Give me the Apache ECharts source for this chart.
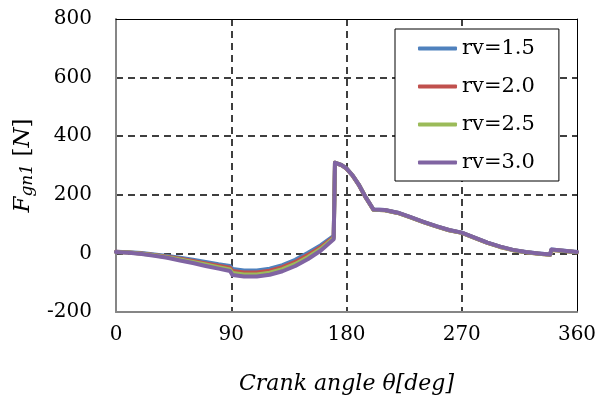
<!DOCTYPE html>
<html>
<head>
<meta charset="utf-8">
<script src="https://cdn.jsdelivr.net/npm/echarts@6/dist/echarts.min.js"></script>
<style>
  html, body { margin: 0; padding: 0; background: #fff; }
  #main { width: 600px; height: 406px; }
</style>
</head>
<body>
<div id="main"></div>
<script>
// crank angle samples [deg]
var angles = [0, 10, 20, 30, 40, 50, 60, 70, 80, 89, 91, 100, 110, 120, 130, 140, 150, 160, 170,
    171, 176, 180, 185, 190, 195, 201, 210, 220, 230, 240, 250, 260, 270, 280, 290, 300, 310,
    320, 330, 339, 340, 350, 360];

// Fgn1 [N] for each rv
var rv15 = [6, 4, 1, -4, -9, -15, -22, -29, -37, -43, -53, -58, -58, -52, -40, -22, 2, 28, 60,
    308, 301, 289, 264, 231, 191, 150, 148, 139, 124, 108, 93, 80, 71, 54, 37, 23, 12,
    5, 0, -4, 13, 9, 5];
var rv20 = [6, 3, 0, -5, -11, -18, -26, -34, -42, -49, -60, -65, -65, -59, -47, -29, -5, 22, 56,
    309, 301, 289, 264, 231, 191, 149, 147, 138, 123, 107, 92, 79, 70, 53, 36, 22, 11,
    4, -1, -5, 12, 8, 4];
var rv25 = [5, 3, -1, -6, -13, -21, -29, -38, -47, -55, -67, -72, -72, -66, -54, -36, -12, 16, 52,
    310, 302, 290, 265, 232, 192, 149, 147, 138, 123, 107, 92, 79, 70, 53, 36, 22, 11,
    4, -1, -5, 12, 8, 4];
var rv30 = [5, 2, -2, -8, -15, -24, -33, -43, -52, -60, -74, -79, -79, -73, -61, -43, -19, 10, 48,
    310, 302, 290, 265, 232, 192, 150, 148, 139, 124, 108, 93, 80, 71, 54, 37, 23, 12,
    5, 0, -4, 13, 9, 5];

var seriesNames = ['rv=1.5', 'rv=2.0', 'rv=2.5', 'rv=3.0'];
var seriesValues = [rv15, rv20, rv25, rv30];
var colors = ['#4F81BD', '#C0504D', '#9BBB59', '#8064A2'];

var xTicks = [0, 90, 180, 270, 360];

var font = 'DejaVu Serif';

function pairs(vals) {
    return angles.map(function (a, i) { return [a, vals[i]]; });
}

var chart = echarts.init(document.getElementById('main'), null, { renderer: 'canvas' });

var series = seriesNames.map(function (name, i) {
    return {
        name: name,
        type: 'line',
        data: pairs(seriesValues[i]),
        showSymbol: false,
        lineStyle: { color: colors[i], width: 4, join: 'round', cap: 'round' },
        itemStyle: { color: colors[i] },
        z: 3 + i
    };
});

var option = {
    animation: false,
    color: colors,
    grid: { left: 116, right: 23, top: 19, bottom: 94 },
    legend: {
        data: seriesNames,
        orient: 'vertical',
        left: 395,
        top: 29,
        backgroundColor: '#fff',
        borderColor: '#000',
        borderWidth: 1,
        padding: [9, 24, 8, 23],
        itemGap: 17,
        itemWidth: 39,
        itemHeight: 4,
        icon: 'roundRect',
        textStyle: { fontFamily: font, fontSize: 21, color: '#000' }
    },
    xAxis: [{
        type: 'value',
        min: 0,
        max: 360,
        interval: 90,
        name: 'Crank angle θ[deg]',
        nameLocation: 'middle',
        nameGap: 61,
        nameTextStyle: { fontFamily: font, fontStyle: 'italic', fontSize: 22, color: '#000' },
        axisLine: { show: true, onZero: false, lineStyle: { color: '#868686', width: 2 } },
        axisTick: { show: false },
        axisLabel: {
            fontFamily: font, fontSize: 20, color: '#000', margin: 13,
            formatter: function (v) { return xTicks.indexOf(v) >= 0 ? String(v) : ''; }
        },
        splitLine: {
            show: true, showMinLine: false, showMaxLine: false,
            lineStyle: { color: '#000', type: [7, 5], width: 1.5 }
        }
    }, {
        type: 'value',
        position: 'top',
        min: 0,
        max: 360,
        interval: 90,
        axisLine: { show: true, onZero: false, lineStyle: { color: '#000', width: 1 } },
        axisTick: { show: false },
        axisLabel: { show: false },
        splitLine: { show: false }
    }],
    yAxis: [{
        type: 'value',
        min: -200,
        max: 800,
        interval: 200,
        name: '{f|F}{s|gn1} [{f|N}]',
        nameLocation: 'middle',
        nameGap: 70,
        nameTextStyle: {
            fontFamily: font, fontSize: 23, color: '#000',
            rich: {
                f: { fontFamily: font, fontStyle: 'italic', fontSize: 23, color: '#000' },
                s: { fontFamily: font, fontStyle: 'italic', fontSize: 17, color: '#000', verticalAlign: 'bottom', padding: [9, 0, 0, 0] }
            }
        },
        axisLine: { show: true, onZero: false, lineStyle: { color: '#868686', width: 2 } },
        axisTick: { show: false },
        axisLabel: { fontFamily: font, fontSize: 20, color: '#000', margin: 24 },
        splitLine: {
            show: true, showMinLine: false, showMaxLine: false,
            lineStyle: { color: '#000', type: [7, 5], width: 1.5 }
        }
    }, {
        type: 'value',
        position: 'right',
        min: -200,
        max: 800,
        interval: 200,
        axisLine: { show: true, onZero: false, lineStyle: { color: '#000', width: 1 } },
        axisTick: { show: false },
        axisLabel: { show: false },
        splitLine: { show: false }
    }],
    series: series
};

chart.setOption(option);
</script>
</body>
</html>
